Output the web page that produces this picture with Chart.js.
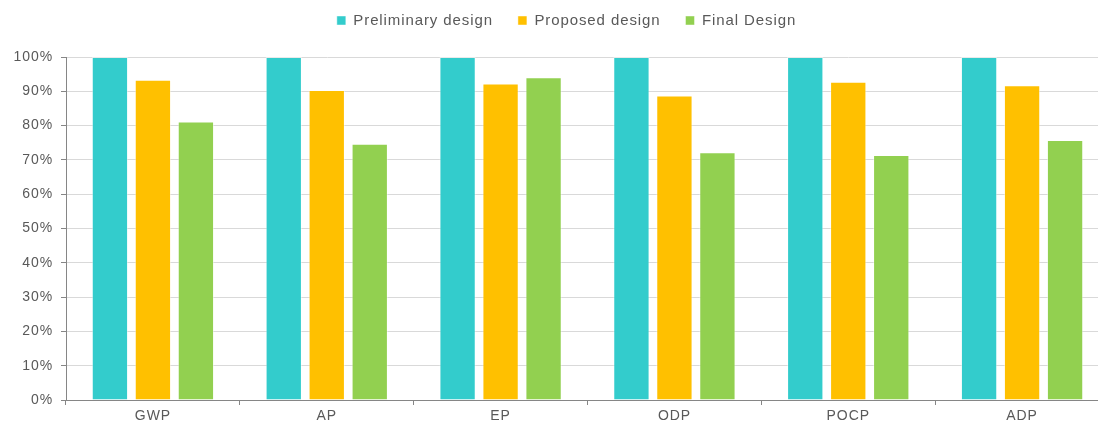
<!DOCTYPE html>
<html>
<head>
<meta charset="utf-8">
<script src="https://cdn.jsdelivr.net/npm/chart.js@4"></script>
<style>
    html, body {
        margin: 0;
        padding: 0;
        background: #ffffff;
        overflow: hidden;
    }

    #wrap {
        position: relative;
        width: 1110px;
        height: 428px;
    }
</style>
</head>
<body>
<div id="wrap"><canvas id="chart" width="1110" height="428"></canvas></div>
<script>
const categories = ['GWP', 'AP', 'EP', 'ODP', 'POCP', 'ADP'];
const preliminaryDesign = [100, 100, 100, 100, 100, 100];
const proposedDesign = [93.4, 90.4, 92.3, 88.8, 92.8, 91.8];
const finalDesign = [81.2, 74.7, 94.1, 72.2, 71.4, 75.8];
const yTicks = [0, 10, 20, 30, 40, 50, 60, 70, 80, 90, 100];

const textColor = '#595959';
const fontFamily = '"Liberation Sans", Arial, sans-serif';

const canvas = document.getElementById('chart');
const context = canvas.getContext('2d');

Chart.defaults.font.family = fontFamily;
Chart.defaults.color = textColor;

// the reference text is set a little wider than plain Arial
const letterSpacing = {
    id: 'letterSpacing',
    beforeUpdate(chart) {
        chart.ctx.letterSpacing = '0.9px';
    },
    beforeDraw(chart) {
        chart.ctx.letterSpacing = '0.9px';
    },
};

const legendSpacing = {
    id: 'legendSpacing',
    beforeInit(chart) {
        const fit = chart.legend.fit;
        chart.legend.fit = function () {
            fit.call(this);
            this.height = 57;
        };
    },
    afterLayout(chart) {
        chart.legend.top = -12;
        chart.legend.left += 12;
        chart.legend.right += 12;
    },
};

function barDataset(label, data, color) {
    return {
        label,
        data,
        backgroundColor: color,
        borderColor: 'rgba(255, 255, 255, 0.45)',
        borderWidth: 1,
        barPercentage: 0.845,
        categoryPercentage: 0.742,
    };
}

new Chart(context, {
    type: 'bar',
    data: {
        labels: categories,
        datasets: [
            barDataset('Preliminary design', preliminaryDesign, '#33CCCC'),
            barDataset('Proposed design', proposedDesign, '#FFC000'),
            barDataset('Final Design', finalDesign, '#92D050'),
        ],
    },
    plugins: [letterSpacing, legendSpacing],
    options: {
        responsive: false,
        animation: false,
        layout: {
            padding: { left: 0, right: 1, top: 0, bottom: 0 },
        },
        plugins: {
            legend: {
                position: 'top',
                labels: {
                    boxWidth: 9,
                    boxHeight: 9,
                    padding: 25,
                    color: textColor,
                    font: { size: 15 },
                },
            },
            tooltip: { enabled: false },
        },
        scales: {
            x: {
                offset: true,
                grid: {
                    offset: true,
                    drawOnChartArea: false,
                    color: '#868686',
                    tickLength: 5,
                },
                border: { color: '#868686', width: 1 },
                ticks: {
                    padding: 3,
                    color: textColor,
                    font: { size: 14 },
                },
                afterFit(scale) {
                    scale.height = 28;
                },
            },
            y: {
                min: 0,
                max: 100,
                afterBuildTicks(scale) {
                    scale.ticks = yTicks.map((value) => ({ value }));
                },
                grid: {
                    color: '#D9D9D9',
                    tickColor: '#868686',
                    tickLength: 5,
                    lineWidth: 1,
                },
                border: { color: '#868686', width: 1 },
                ticks: {
                    padding: 8,
                    color: textColor,
                    font: { size: 14 },
                    callback: (value) => `${value}%`,
                },
                afterFit(scale) {
                    scale.width = 66;
                },
            },
        },
    },
});
</script>
</body>
</html>
